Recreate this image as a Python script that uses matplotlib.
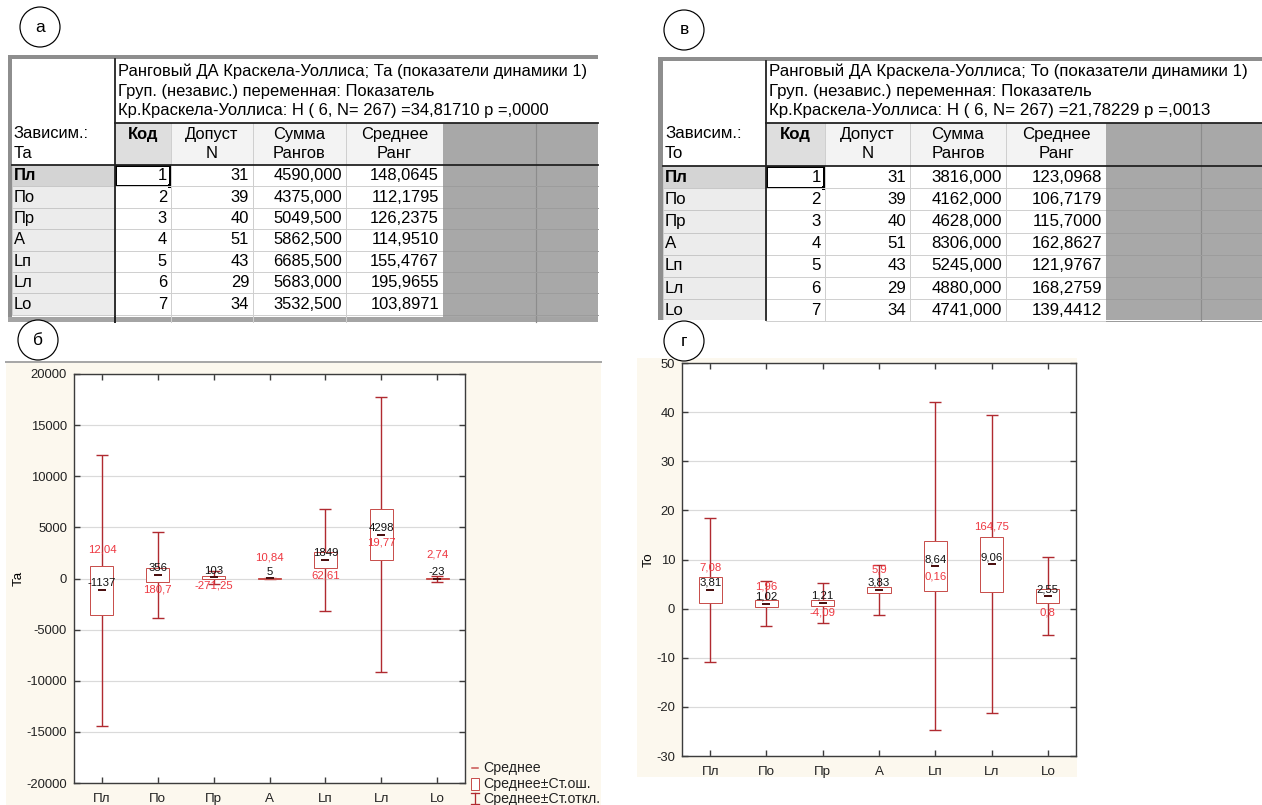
import matplotlib
matplotlib.use("Agg")
import matplotlib.pyplot as plt
from matplotlib.patches import Rectangle, Circle

plt.rcParams['font.family'] = ['Liberation Sans', 'DejaVu Sans']
plt.rcParams['axes.unicode_minus'] = False

W, H = 1262, 805

# ---- data ----
groups = ["Пл", "По", "Пр", "А", "Lп", "Lл", "Lо"]
codes = [1, 2, 3, 4, 5, 6, 7]
n_valid = [31, 39, 40, 51, 43, 29, 34]

ta_title = ["Ранговый ДА Краскела-Уоллиса; Та (показатели динамики 1)",
            "Груп. (независ.) переменная: Показатель",
            "Кр.Краскела-Уоллиса: H ( 6, N= 267) =34,81710 p =,0000"]
ta_rank_sum = [4590.0, 4375.0, 5049.5, 5862.5, 6685.5, 5683.0, 3532.5]
ta_mean_rank = [148.0645, 112.1795, 126.2375, 114.9510, 155.4767, 195.9655, 103.8971]

to_title = ["Ранговый ДА Краскела-Уоллиса; То (показатели динамики 1)",
            "Груп. (независ.) переменная: Показатель",
            "Кр.Краскела-Уоллиса: H ( 6, N= 267) =21,78229 p =,0013"]
to_rank_sum = [3816.0, 4162.0, 4628.0, 8306.0, 5245.0, 4880.0, 4741.0]
to_mean_rank = [123.0968, 106.7179, 115.7000, 162.8627, 121.9767, 168.2759, 139.4412]

# box plots: mean, standard error, standard deviation
ta_mean = [-1137, 356, 103, 5, 1849, 4298, -23]
ta_se = [2400, 680, 140, 25, 780, 2515, 60]
ta_sd = [13250, 4200, 650, 60, 4980, 13470, 280]
ta_red = ["12,04", "180,7", "-271,25", "10,84", "62,61", "19,77", "2,74"]
ta_red_y = [2800, -1120, -730, 2100, 340, 3540, 2380]

to_mean = [3.81, 1.02, 1.21, 3.83, 8.64, 9.06, 2.55]
to_se = [2.65, 0.75, 0.6, 0.67, 5.15, 5.6, 1.48]
to_sd = [14.7, 4.6, 4.07, 5.05, 33.4, 30.4, 7.97]
to_red = ["7,08", "1,96", "-4,09", "5,9", "0,16", "164,75", "0,8"]
to_red_y = [8.4, 4.6, -0.8, 7.9, 6.5, 16.8, -0.7]

legend_items = ["Среднее", "Среднее±Ст.ош.", "Среднее±Ст.откл."]

BEIGE = '#FCF8EE'
WHISK = '#B02A30'
BOXC = '#C8504D'
MEANC = '#4A1010'
REDTXT = '#EE3841'
px = 0.72  # points per pixel at dpi 100

fig = plt.figure(figsize=(W / 100, H / 100), dpi=100)
fig.patch.set_facecolor('white')

ax_bg = fig.add_axes([0, 0, 1, 1], zorder=0)
ax_bg.set_xlim(0, W)
ax_bg.set_ylim(H, 0)
ax_bg.axis('off')

def comma(v, d):
    return f"{v:.{d}f}".replace('.', ',')

def draw_table(ax, xe, top, line_y, head_y, row_h, bottom, title, dep, sums, ranks, fs, band):
    x0, x1, xs, xk, xd, xsum, xm, xdk, xr = xe
    ax.add_patch(Rectangle((x1, top), xr - x1, bottom - top, fc='white', ec='none'))
    # frame
    ax.add_patch(Rectangle((x0, top), x1 - x0, bottom - top, fc='#8E8E8E', ec='none'))
    ax.add_patch(Rectangle((x0, top), xr - x0, 4, fc='#8E8E8E', ec='none'))
    # title
    for k, t in enumerate(title):
        ax.text(xs + 3, line_y - 12 - 19.7 * (2 - k), t, fontsize=fs, va='center', ha='left')
    # column header cells
    ax.add_patch(Rectangle((xs, line_y), xk - xs, head_y - line_y, fc='#DEDEDE', ec='none'))
    ax.add_patch(Rectangle((xk, line_y), xm - xk, head_y - line_y, fc='#F3F3F3', ec='none'))
    ax.add_patch(Rectangle((xm, line_y), xr - xm, bottom - line_y, fc='#A8A8A8', ec='none'))
    ax.plot([xdk, xdk], [line_y, bottom], color='#8C8C8C', lw=1.2 * px)
    ax.text(xs + (xk - xs) / 2, line_y + 11, "Код", fontsize=fs, ha='center', va='center', fontweight='bold')
    heads = [("Допуст", "N"), ("Сумма", "Рангов"), ("Среднее", "Ранг")]
    lefts = [xk, xd, xsum]
    rights = [xd, xsum, xm]
    for (h1, h2), l, r in zip(heads, lefts, rights):
        ax.text((l + r) / 2, line_y + 11, h1, fontsize=fs, ha='center', va='center')
        ax.text((l + r) / 2, line_y + 31, h2, fontsize=fs, ha='center', va='center')
    ax.text(x1 + 2, line_y + 10, "Зависим.:", fontsize=fs, ha='left', va='center')
    ax.text(x1 + 2, line_y + 30, dep, fontsize=fs, ha='left', va='center')
    # rows
    for i in range(len(groups)):
        y0 = head_y + i * row_h
        ax.add_patch(Rectangle((x1, y0), xs - x1, row_h, fc='#D4D4D4' if i == 0 else '#ECECEC',
                               ec='#C4C4C4', lw=0.8 * px))
        yc = y0 + row_h / 2
        ax.text(x1 + 2, yc, groups[i], fontsize=fs, ha='left', va='center',
                fontweight='bold' if i == 0 else 'normal')
        ax.text(xk - 4, yc, str(codes[i]), fontsize=fs, ha='right', va='center')
        ax.text(xd - 4, yc, str(n_valid[i]), fontsize=fs, ha='right', va='center')
        ax.text(xsum - 4, yc, comma(sums[i], 3), fontsize=fs, ha='right', va='center')
        ax.text(xm - 4, yc, comma(ranks[i], 4), fontsize=fs, ha='right', va='center')
        ax.plot([xs, xm], [y0 + row_h, y0 + row_h], color='#D0D0D0', lw=1 * px)
        ax.plot([xm, xr], [y0 + row_h, y0 + row_h], color='#9C9C9C', lw=1 * px)
    for xv in [xk, xd, xsum]:
        ax.plot([xv, xv], [line_y, bottom], color='#CFCFCF', lw=1 * px)
    # dark rules
    ax.plot([xs, xs], [top + 4, bottom], color='#222222', lw=1.8 * px)
    ax.plot([xs, xr], [line_y, line_y], color='#222222', lw=1.8 * px)
    ax.plot([x1, xr], [head_y, head_y], color='#222222', lw=1.8 * px)
    # selected cell
    ax.add_patch(Rectangle((xs + 1, head_y + 1), xk - xs - 2, row_h - 1, fc='none', ec='black', lw=2 * px))
    ax.add_patch(Rectangle((xk - 3, head_y + row_h - 2), 4, 4, fc='black', ec='none'))
    if band:
        ax.add_patch(Rectangle((x0, bottom - 5), xr - x0, 5, fc='#A4A4A4', ec='none'))
        ax.plot([xs, xs], [bottom - 5, bottom], color='#222222', lw=1.8 * px)
    else:
        ax.add_patch(Rectangle((x0 - 1, bottom), xr - x0 + 2, 6, fc='white', ec='none'))

draw_table(ax_bg, [8, 12, 115, 171, 253, 346, 443, 536, 598], 55, 123, 165, 21.4, 322,
           ta_title, "Та", ta_rank_sum, ta_mean_rank, 11.9, True)
draw_table(ax_bg, [658, 663, 766, 825, 910, 1006, 1106, 1201, 1262], 57, 123, 166, 22.2, 320,
           to_title, "То", to_rank_sum, to_mean_rank, 12.2, False)

# beige panels behind charts
ax_bg.add_patch(Rectangle((6, 362), 595, 443, fc=BEIGE, ec='none'))
ax_bg.plot([6, 601], [362, 362], color='#A8A8A8', lw=2 * px)
ax_bg.add_patch(Rectangle((637, 358), 440, 419, fc=BEIGE, ec='none'))


def box_chart(rect, means, ses, sds, red, red_y, ylim, step, ylabel, label_fmt):
    ax = fig.add_axes(rect, zorder=2)
    x = [i + 0.5 for i in range(len(groups))]
    ax.set_xlim(0, len(groups))
    ax.set_ylim(*ylim)
    ax.set_facecolor('white')
    ax.errorbar(x, means, yerr=sds, fmt='none', ecolor=WHISK, elinewidth=1.4 * px,
                capsize=6 * px, capthick=1.4 * px, zorder=3)
    bottoms = [m - s for m, s in zip(means, ses)]
    heights = [2 * s for s in ses]
    ax.bar(x, heights, bottom=bottoms, width=0.41, facecolor='white', edgecolor=BOXC,
           linewidth=1.0 * px, zorder=4)
    ax.plot(x, means, ls='none', marker='_', ms=8 * px, mew=2 * px, color=MEANC, zorder=5)
    for xi, m in zip(x, means):
        ax.annotate(label_fmt(m), (xi, m), xytext=(0, 5), textcoords='offset points',
                    ha='center', va='center', fontsize=8.2, color='#111111', zorder=6)
    for xi, t, yy in zip(x, red, red_y):
        ax.text(xi, yy, t, ha='center', va='center', fontsize=8.2, color=REDTXT, zorder=6)
    ax.set_xticks(x)
    ax.set_xticklabels(groups)
    ax.set_yticks(range(ylim[0], ylim[1] + 1, step))
    ax.yaxis.grid(True, color='#DADADA', lw=1.2 * px)
    ax.set_axisbelow(True)
    ax.tick_params(direction='in', top=True, right=True, length=4, width=1, color='#3C3C3C',
                   labelsize=9.4, labelcolor='#222222', pad=5)
    ax.tick_params(axis='x', pad=7, labelsize=9.6)
    for s in ax.spines.values():
        s.set_color('#3C3C3C')
        s.set_linewidth(1.4 * px)
    ax.set_ylabel(ylabel, fontsize=9.6, labelpad=1)
    return ax

ax_b = box_chart([74 / W, (H - 783) / H, 391 / W, 409 / H], ta_mean, ta_se, ta_sd,
                 ta_red, ta_red_y, (-20000, 20000), 5000, "Та", lambda v: str(v))
ax_g = box_chart([682 / W, (H - 756) / H, 394 / W, 393 / H], to_mean, to_se, to_sd,
                 to_red, to_red_y, (-30, 50), 10, "То", lambda v: comma(v, 2))

# legend of chart б
ax_top = fig.add_axes([0, 0, 1, 1], zorder=5)
ax_top.set_xlim(0, W)
ax_top.set_ylim(H, 0)
ax_top.axis('off')
ax_top.patch.set_visible(False)
ly = [768, 784, 799]
ax_top.plot([472, 478], [ly[0], ly[0]], color=BOXC, lw=1.5 * px)
ax_top.add_patch(Rectangle((471, ly[1] - 6), 8, 12, fc='white', ec=BOXC, lw=1 * px))
ax_top.plot([475, 475], [ly[2] - 6, ly[2] + 5], color=WHISK, lw=1.3 * px)
ax_top.plot([471, 479], [ly[2] - 6, ly[2] - 6], color=WHISK, lw=1.3 * px)
ax_top.plot([471, 479], [ly[2] + 5, ly[2] + 5], color=WHISK, lw=1.3 * px)
for t, yy in zip(legend_items, ly):
    ax_top.text(483, yy, t, fontsize=10.2, va='center', ha='left', color='#222222')

# panel letters
letters = ["а", "в", "б", "г"]
centers = [(40, 27), (684, 30), (38, 340), (684, 341)]
for t, (cx, cy) in zip(letters, centers):
    ax_top.add_patch(Circle((cx, cy), 20, fc='white', ec='black', lw=1.2 * px))
    ax_top.text(cx, cy, t, fontsize=12.5, ha='center', va='center')

fig.savefig("out.png", dpi=100)
